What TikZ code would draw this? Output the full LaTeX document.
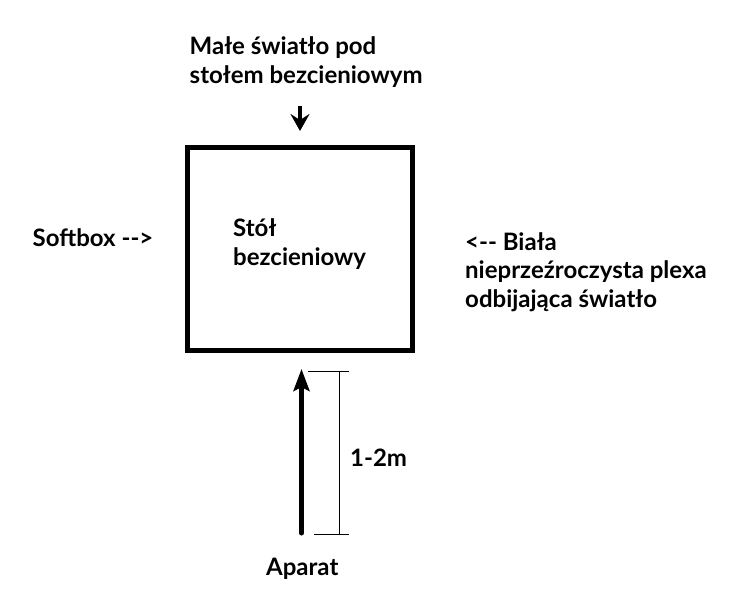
\documentclass[tikz,border=0pt]{standalone}
\usepackage{fontspec}
\setmainfont{Lato}
\usetikzlibrary{arrows.meta}

\begin{document}
\begin{tikzpicture}[
    x=1pt, y=-1pt,
    txt/.style={
        anchor=base west,
        align=left,
        inner sep=0pt,
        font=\fontsize{24}{28.5}\selectfont\bfseries
    },
    table/.style={draw, line width=5pt},
    lightarrow/.style={-{Stealth[length=17pt, width=19pt, inset=6pt]}, line width=4.5pt},
    camarrow/.style={-{Stealth[length=22pt, width=16pt, inset=4pt]}, line width=5pt, line cap=round},
    dim/.style={line width=1pt}
]
\useasboundingbox (0,0) rectangle (740,613);

% Table
\draw[table] (187.5,147.5) rectangle (412,350);
\node[txt] (table) at (233,265) {Stół\\bezcieniowy};

% Light under the table
\node[txt] (light) at (189.5,83.3) {Małe światło pod\\stołem bezcieniowym};
\coordinate (lightTail) at (300,106);
\coordinate (lightHead) at (300,131);
\draw[lightarrow] (lightTail) -- (lightHead);

% Softbox
\node[txt] (softbox) at (32.5,246) {Softbox -{}->};

% Plexa
\node[txt] (plexa) at (465,307.3) {<-{}- Biała\\nieprzeźroczysta plexa\\odbijająca światło};

% Camera
\node[txt] (camera) at (266,575) {Aparat};
\coordinate (camTail) at (301.5,533);
\coordinate (camHead) at (301.5,369);
\draw[camarrow] (camTail) -- (camHead);

% Distance
\coordinate (dimTop) at (339,371);
\coordinate (dimBot) at (339,534);
\coordinate (tickTopL) at (308,371);
\coordinate (tickTopR) at (349,371);
\coordinate (tickBotL) at (314,534);
\coordinate (tickBotR) at (349,534);
\draw[dim] (dimTop) -- (dimBot);
\draw[dim] (tickTopL) -- (tickTopR);
\draw[dim] (tickBotL) -- (tickBotR);
\node[txt] (dist) at (350,466) {1-2m};

\end{tikzpicture}
\end{document}
